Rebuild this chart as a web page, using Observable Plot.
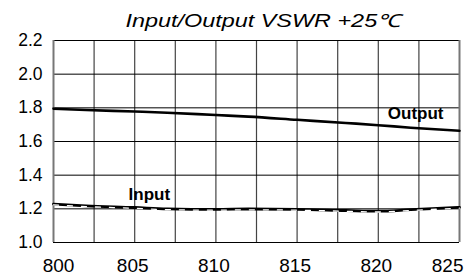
<!DOCTYPE html>
<html>
<head>
<meta charset="utf-8">
<script src="https://cdn.jsdelivr.net/npm/d3@7"></script>
<script src="https://cdn.jsdelivr.net/npm/@observablehq/plot@0.6"></script>
<style>
  html, body { margin: 0; padding: 0; background: #fff; }
  #wrap { position: relative; width: 465px; height: 276px; }
  #title {
    position: absolute; left: 263px; top: 12px;
    font-family: "Liberation Sans", Arial, sans-serif; font-style: italic;
    font-size: 18px; line-height: 18px; white-space: nowrap; color: #000;
    transform: translateX(-50%) scaleX(1.3);
  }
  svg text { font-family: "Liberation Sans", Arial, sans-serif; fill: #000; }
</style>
</head>
<body>
<div id="wrap"><div id="title">Input/Output VSWR +25℃</div></div>
<script>
const freq = [800, 802, 805, 807, 810, 812, 815, 818, 820, 822, 825];
const outputVswr = [1.795, 1.787, 1.778, 1.771, 1.757, 1.748, 1.729, 1.710, 1.697, 1.682, 1.664];
const inputVswr = [1.228, 1.218, 1.208, 1.200, 1.197, 1.199, 1.197, 1.190, 1.186, 1.195, 1.209];
const xTicks = [800, 805, 810, 815, 820, 825];
const yTicks = [1.0, 1.2, 1.4, 1.6, 1.8, 2.0, 2.2];
const xGrid = [802.5, 805, 807.5, 810, 812.5, 815, 817.5, 820, 822.5];
const yGrid = [1.2, 1.4, 1.6, 1.8, 2.0];
const seriesLabels = ["Output", "Input"];
const labelX = [822.3, 805.9];
const labelY = [1.766, 1.285];

const outData = freq.map((f, i) => ({f, v: outputVswr[i]}));
const inData = freq.map((f, i) => ({f, v: inputVswr[i]}));
const labData = seriesLabels.map((t, i) => ({t, x: labelX[i], y: labelY[i]}));

const chart = Plot.plot({
  width: 465, height: 276,
  marginLeft: 53, marginRight: 6, marginTop: 40, marginBottom: 34,
  x: {domain: [800, 825]},
  y: {domain: [1.0, 2.2]},
  marks: [
    Plot.ruleX(xGrid, {stroke: "#444", strokeWidth: 1.2}),
    Plot.ruleY(yGrid, {stroke: "#000", strokeWidth: 1}),
    Plot.ruleY([1.0, 2.2], {stroke: "#000", strokeWidth: 1.2}),
    Plot.ruleX([800, 825], {stroke: "#777", strokeWidth: 2}),
    Plot.line(outData, {x: "f", y: "v", stroke: "#000", strokeWidth: 2.6, curve: "monotone-x"}),
    Plot.line(inData, {x: "f", y: "v", stroke: "#000", strokeWidth: 2.8, curve: "monotone-x"}),
    Plot.line(inData, {x: "f", y: "v", stroke: "#fff", strokeWidth: 1.3, strokeDasharray: "5,9", dy: 0.8, curve: "monotone-x"}),
    Plot.text(labData, {x: "x", y: "y", text: "t", fontSize: 17, fontWeight: "bold", fill: "#000"}),
    Plot.axisY(yTicks, {tickSize: 0, tickPadding: 11, fontSize: 17.5, tickFormat: d3.format(".1f"), style: {letterSpacing: "1.5px"}}),
    Plot.axisX([805, 810, 815, 820], {tickSize: 0, tickPadding: 16, fontSize: 19, dx: -2}),
    Plot.axisX([800], {tickSize: 0, tickPadding: 16, fontSize: 19, dx: 5}),
    Plot.axisX([825], {tickSize: 0, tickPadding: 16, fontSize: 19, textAnchor: "end", dx: 4})
  ]
});
document.getElementById("wrap").appendChild(chart);
chart.style.position = "absolute";
chart.style.left = "0";
chart.style.top = "0";
</script>
</body>
</html>
